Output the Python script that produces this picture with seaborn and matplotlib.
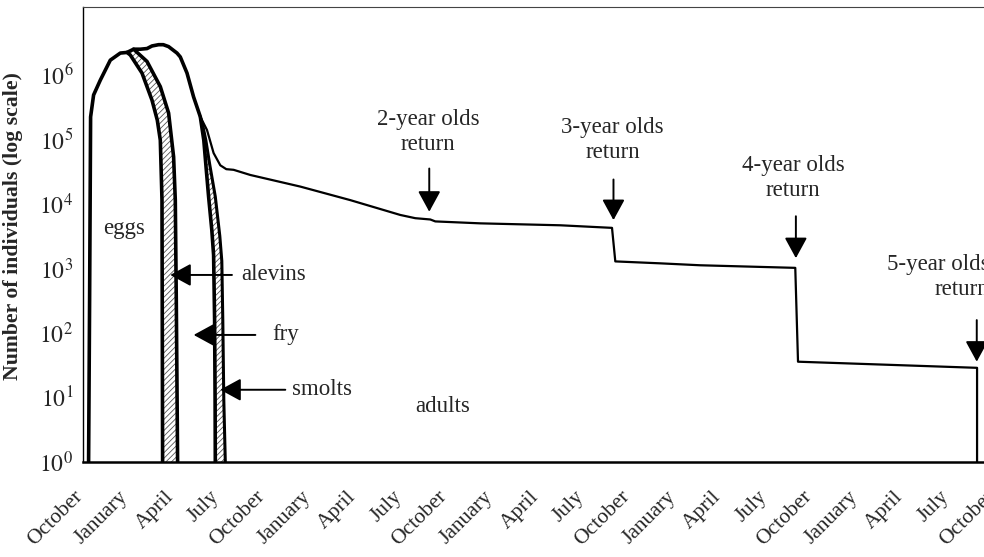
import numpy as np
import pandas as pd
import matplotlib
matplotlib.use("Agg")
import matplotlib.pyplot as plt
import seaborn as sns
from matplotlib.transforms import ScaledTranslation

# ---------------- data (x = months since first October, y = number of individuals) -------------
eggs_m = [0.368, 0.434, 0.50, 0.697, 1.138, 1.796, 2.454, 2.895, 3.112, 3.882, 4.539, 4.888, 5.086, 5.197, 5.237]
eggs_log = [0.0, 2.5, 5.35, 5.69, 5.92, 6.23, 6.34, 6.35, 6.31, 6.03, 5.61, 5.30, 4.99, 4.06, 0.0]

alevins_m = [2.895, 3.329, 4.211, 5.086, 5.632, 5.961, 6.072, 6.138, 6.224]
alevins_log = [6.35, 6.40, 6.21, 5.82, 5.41, 4.73, 4.06, 2.5, 0.0]

fry_m = [3.329, 3.770, 4.211, 4.539, 4.974, 5.283, 5.632, 6.184, 6.401, 6.842, 7.276, 7.717,
         7.947, 8.112, 8.263, 8.474, 8.592, 8.658, 8.691, 8.704]
fry_log = [6.40, 6.40, 6.41, 6.45, 6.47, 6.47, 6.44, 6.34, 6.28, 6.03, 5.66, 5.353,
           4.989, 4.527, 4.113, 3.597, 3.209, 2.202, 0.961, 0.0]

smolts_m = [7.717, 7.85, 8.079, 8.342, 8.704, 9.0, 9.132, 9.197, 9.263, 9.362]
smolts_log = [5.353, 5.25, 4.992, 4.605, 4.113, 3.504, 3.116, 2.202, 0.961, 0.0]

adults_m = [7.717, 8.158, 8.592, 9.033, 9.428, 9.908, 11.007, 14.296, 17.586, 20.875, 21.862,
            22.849, 23.178, 26.138, 31.401, 34.803, 35.02, 37.98, 40.61, 46.86, 47.04, 58.82, 58.82]
adults_log = [5.353, 5.147, 4.79, 4.60, 4.54, 4.53, 4.45, 4.27, 4.06, 3.83, 3.78,
              3.76, 3.73, 3.70, 3.67, 3.63, 3.11, 3.08, 3.05, 3.01, 1.555, 1.46, -0.2]

tick_months = list(range(0, 61, 3))
month_names = ["October", "January", "April", "July"]
tick_labels = [month_names[i % 4] for i in range(len(tick_months))]
ytick_exp = [0, 1, 2, 3, 4, 5, 6]

return_labels = ["2-year olds\nreturn", "3-year olds\nreturn", "4-year olds\nreturn", "5-year olds\nreturn"]
return_text_m = [22.72, 34.83, 46.73, 59.62]
return_text_log = [5.12, 5.00, 4.40, 2.87]
return_arrow_m = [22.78, 34.90, 46.90, 58.80]
return_tail_log = [4.55, 4.38, 3.81, 2.20]
return_tip_log = [3.88, 3.75, 3.16, 1.555]

stage_labels = ["alevins", "fry", "smolts"]
stage_text_m = [10.40, 12.43, 13.75]
stage_log = [2.90, 1.97, 1.12]
stage_tail_m = [9.80, 11.34, 13.31]
stage_tip_m = [5.74, 7.28, 9.03]

# ---------------- style -------------
sns.set_theme(style="white")
plt.rcParams["font.family"] = ["Liberation Serif", "DejaVu Serif"]
plt.rcParams["mathtext.fontset"] = "stix"
plt.rcParams["hatch.linewidth"] = 0.6

W, H = 984, 557
fig = plt.figure(figsize=(W / 100, H / 100), dpi=100)
px_per_month = 15.2
xmax = 60.5
ax = fig.add_axes([83 / W, 95 / H, xmax * px_per_month / W, 455 / H])
ax.set_yscale("log")


def to_counts(vals):
    return [10 ** v for v in vals]


def df_of(m, lg):
    return pd.DataFrame({"month": m, "count": to_counts(lg)})


# hatched bands (alevins, smolts)
e_start = eggs_m.index(2.895)
band1_x = eggs_m[e_start:] + alevins_m[::-1]
band1_y = to_counts(eggs_log[e_start:] + alevins_log[::-1])
ax.fill(band1_x, band1_y, facecolor="white", edgecolor="#555555", linewidth=0, hatch="//////", zorder=1)

f_start = fry_m.index(7.717)
band2_x = fry_m[f_start:] + smolts_m[::-1]
band2_y = to_counts(fry_log[f_start:] + smolts_log[::-1])
ax.fill(band2_x, band2_y, facecolor="white", edgecolor="#555555", linewidth=0, hatch="//////", zorder=1)

# boundary curves
for m, lg, lw in [(eggs_m, eggs_log, 2.6), (alevins_m, alevins_log, 2.6), (fry_m, fry_log, 2.6),
                  (smolts_m, smolts_log, 2.2), (adults_m, adults_log, 1.6)]:
    sns.lineplot(data=df_of(m, lg), x="month", y="count", ax=ax, sort=False, estimator=None,
                 color="black", linewidth=lw, zorder=3)

ax.set_xlim(0, xmax)
ax.set_ylim(1, 10 ** (455 / 64.5))
ax.set_xlabel("")
ax.set_ylabel("Number of individuals (log scale)", fontsize=15.7, fontweight="bold")
ax.yaxis.set_label_coords(-60 / (xmax * px_per_month), (462 - 226) / 455)

ax.set_yticks([10 ** e for e in ytick_exp])
ax.set_yticklabels([f"$10^{{{e}}}$" for e in ytick_exp], fontsize=17)
ax.yaxis.set_minor_locator(matplotlib.ticker.NullLocator())
ax.set_xticks(tick_months)
ax.set_xticklabels(tick_labels, fontsize=15.5, rotation=45, ha="right", va="top",
                   rotation_mode="anchor")
ax.tick_params(axis="x", direction="inout", length=10, width=1, color="#444444", pad=13)
ax.tick_params(axis="y", direction="out", length=5, width=1, color="black", pad=2)
offset = ScaledTranslation(-10 / 100, 0, fig.dpi_scale_trans)
for lab in ax.get_xticklabels():
    lab.set_transform(lab.get_transform() + offset)

for side in ["left", "bottom", "top", "right"]:
    ax.spines[side].set_color("black")
ax.spines["left"].set_linewidth(1.0)
ax.spines["bottom"].set_linewidth(1.8)
ax.spines["top"].set_linewidth(0.8)
ax.spines["top"].set_color("#444444")
ax.spines["right"].set_visible(False)
ax.grid(False)

arrow_kw = dict(arrowstyle="-|>,head_length=0.55,head_width=0.3", mutation_scale=23,
                color="black", lw=1.4, shrinkA=0, shrinkB=0)

# stage annotations
ax.text(2.67, 10 ** 3.62, "eggs", fontsize=16.5, ha="center", va="center")
ax.text(23.67, 10 ** 0.868, "adults", fontsize=16.5, ha="center", va="center")
for lab, tx, ly, tail, tip in zip(stage_labels, stage_text_m, stage_log, stage_tail_m, stage_tip_m):
    ax.annotate("", xy=(tip, 10 ** ly), xytext=(tail, 10 ** ly), arrowprops=arrow_kw)
    ax.text(tx, 10 ** ly, lab, fontsize=16.5, ha="left", va="center")

# return annotations
for i, (lab, tx, ty, am, t0, t1) in enumerate(zip(return_labels, return_text_m, return_text_log,
                                                  return_arrow_m, return_tail_log, return_tip_log)):
    ax.annotate("", xy=(am, 10 ** t1), xytext=(am, 10 ** t0), arrowprops=arrow_kw)
    ha = "right" if i == 3 else "center"
    ax.text(tx, 10 ** ty, lab, fontsize=16.5, ha=ha, va="center", multialignment="center"
            if ha == "center" else "right", linespacing=1.25)

fig.savefig("out.png", dpi=100)
